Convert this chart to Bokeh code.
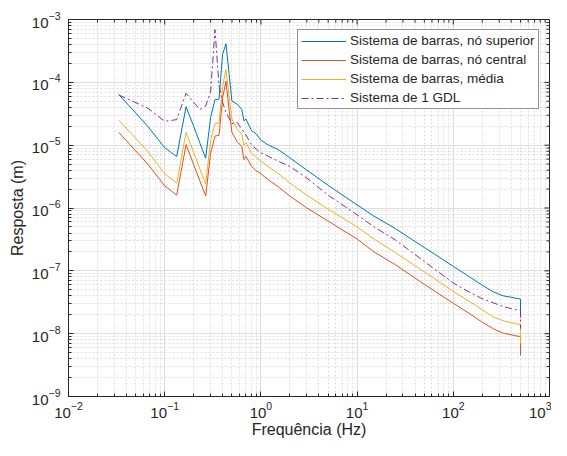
import math
from bokeh.plotting import figure
from bokeh.models import FixedTicker
from bokeh.embed import file_html
from bokeh.resources import INLINE

# Frequencies (Hz)
freq = [0.0333, 0.0667, 0.1, 0.1333, 0.1667, 0.2, 0.2333, 0.2667, 0.3, 0.3333,
        0.3667, 0.4, 0.4333, 0.4667, 0.5, 0.5667, 0.6333, 0.6667, 0.7, 0.8,
        0.9, 1.0, 1.2, 1.5, 2.0, 3.0, 5.0, 10.0, 15.0, 25.0,
        50.0, 100.0, 150.0, 200.0, 260.0, 330.0, 400.0, 450.0, 499.9, 500.0]

# Sistema de barras, nó superior
resp_top = [6.4e-5, 2.0e-5, 9.1e-6, 6.6e-6, 4.1e-5, 2.0e-5, 1.06e-5, 6.2e-6, 2.75e-5, 5.3e-5,
            5.4e-5, 2.8e-4, 4.1e-4, 1.38e-4, 5.0e-5, 4.5e-5, 3.7e-5, 2.44e-5, 2.6e-5, 1.7e-5,
            1.5e-5, 1.2e-5, 1.0e-5, 8.6e-6, 6.3e-6, 4.0e-6, 2.3e-6, 1.12e-6, 7.4e-7, 4.7e-7,
            2.35e-7, 1.18e-7, 7.9e-8, 5.9e-8, 4.64e-8, 4.0e-8, 3.8e-8, 3.65e-8, 3.56e-8, 1.8e-8]

# Sistema de barras, nó central
resp_center = [1.6e-5, 5.0e-6, 2.25e-6, 1.6e-6, 1.02e-5, 4.9e-6, 2.65e-6, 1.55e-6, 7.4e-6, 1.4e-5,
               1.43e-5, 5.6e-5, 1.05e-4, 3.7e-5, 1.6e-5, 1.13e-5, 9.5e-6, 5.9e-6, 6.6e-6, 4.6e-6,
               3.9e-6, 3.5e-6, 2.8e-6, 2.2e-6, 1.55e-6, 1.0e-6, 6.2e-7, 3.2e-7, 2.0e-7, 1.25e-7,
               6.1e-8, 3.05e-8, 2.05e-8, 1.52e-8, 1.2e-8, 1.02e-8, 9.6e-9, 9.2e-9, 9.0e-9, 4.5e-9]

# Sistema de barras, média
resp_mean = [2.5e-5, 8.0e-6, 3.5e-6, 2.5e-6, 1.6e-5, 7.7e-6, 4.1e-6, 2.4e-6, 1.2e-5, 2.2e-5,
             2.25e-5, 8.6e-5, 1.6e-4, 6.0e-5, 2.6e-5, 1.8e-5, 1.5e-5, 1.0e-5, 1.1e-5, 7.4e-6,
             6.4e-6, 5.6e-6, 4.5e-6, 3.6e-6, 2.5e-6, 1.6e-6, 9.6e-7, 5.0e-7, 3.2e-7, 1.95e-7,
             9.6e-8, 4.7e-8, 3.2e-8, 2.4e-8, 1.85e-8, 1.6e-8, 1.5e-8, 1.43e-8, 1.4e-8, 7.0e-9]

# Sistema de 1 GDL
resp_sdof = [6.3e-5, 3.9e-5, 2.4e-5, 2.55e-5, 6.7e-5, 4.8e-5, 3.7e-5, 4.2e-5, 7.0e-5, 6.9e-4,
             9.0e-5, 4.8e-5, 3.3e-5, 2.7e-5, 2.2e-5, 2.3e-5, 1.8e-5, 1.6e-5, 1.45e-5, 1.0e-5,
             8.6e-6, 7.6e-6, 6.6e-6, 5.6e-6, 4.6e-6, 3.0e-6, 1.6e-6, 7.8e-7, 5.0e-7, 3.1e-7,
             1.41e-7, 6.4e-8, 4.5e-8, 3.6e-8, 3.1e-8, 2.7e-8, 2.5e-8, 2.4e-8, 2.35e-8, 1.2e-8]

series_labels = ["Sistema de barras, nó superior", "Sistema de barras, nó central",
                 "Sistema de barras, média", "Sistema de 1 GDL"]
x_label = "Frequência (Hz)"
y_label = "Resposta (m)"

X_LO, X_HI = 1e-2, 1e3
Y_LO, Y_HI = 1e-9, 1e-3

FONT = "Liberation Sans"
TXT = "#262626"

p = figure(width=551, height=440, x_axis_type="log", y_axis_type="log",
           x_range=(X_LO, X_HI), y_range=(Y_LO, Y_HI),
           output_backend="svg", toolbar_location=None,
           min_border_left=68, min_border_right=2, min_border_top=19, min_border_bottom=44)

p.line(freq, resp_top, color="#0072BD", line_width=1.0, legend_label=series_labels[0])
p.line(freq, resp_center, color="#D95319", line_width=1.0, legend_label=series_labels[1])
p.line(freq, resp_mean, color="#EDB120", line_width=1.0, legend_label=series_labels[2])
p.line(freq, resp_sdof, color="#7E2F8E", line_width=1.0, line_dash="7 3 2 3",
       legend_label=series_labels[3])

xmaj = [10.0 ** k for k in range(-2, 4)]
xmin = [m * 10.0 ** k for k in range(-2, 3) for m in range(2, 10)]
ymaj = [10.0 ** k for k in range(-9, -2)]
ymin = [m * 10.0 ** k for k in range(-9, -3) for m in range(2, 10)]

xt = FixedTicker(ticks=xmaj, minor_ticks=xmin)
yt = FixedTicker(ticks=ymaj, minor_ticks=ymin)
p.xaxis.ticker = xt
p.yaxis.ticker = yt
p.xgrid.ticker = xt
p.ygrid.ticker = yt

# inward tick marks on the top and right edges of the box
p.ray(x=xmaj, y=[Y_HI] * len(xmaj), length=5, length_units="screen",
      angle=-math.pi / 2, color=TXT, line_width=1)
p.ray(x=xmin, y=[Y_HI] * len(xmin), length=3, length_units="screen",
      angle=-math.pi / 2, color=TXT, line_width=1)
p.ray(x=[X_HI] * len(ymaj), y=ymaj, length=5, length_units="screen",
      angle=math.pi, color=TXT, line_width=1)
p.ray(x=[X_HI] * len(ymin), y=ymin, length=3, length_units="screen",
      angle=math.pi, color=TXT, line_width=1)

for ax in list(p.xaxis) + list(p.yaxis):
    ax.axis_line_color = TXT
    ax.major_tick_line_color = TXT
    ax.minor_tick_line_color = TXT
    ax.major_tick_in = 5
    ax.major_tick_out = 0
    ax.minor_tick_in = 3
    ax.minor_tick_out = 0
    ax.major_label_text_font = FONT
    ax.major_label_text_font_size = "15px"
    ax.major_label_text_color = TXT
    ax.axis_label_text_font = FONT
    ax.axis_label_text_font_size = "16px"
    ax.axis_label_text_font_style = "normal"
    ax.axis_label_text_color = TXT

p.xaxis.axis_label = x_label
p.xaxis.major_label_standoff = 5
p.xaxis.axis_label_standoff = 0
p.yaxis.axis_label = y_label
p.yaxis.major_label_standoff = 8
p.yaxis.axis_label_standoff = 3

for g in (p.xgrid, p.ygrid):
    g.grid_line_color = "#dedede"
    g.grid_line_width = 1
    g.minor_grid_line_color = "#d0d0d0"
    g.minor_grid_line_dash = "2 2"
    g.minor_grid_line_width = 0.7

p.outline_line_color = TXT

lg = p.legend[0]
lg.location = (229, 287)
lg.padding = 3
lg.spacing = 4
lg.label_height = 14
lg.glyph_height = 14
lg.glyph_width = 45
lg.label_standoff = 4
lg.label_text_font = FONT
lg.label_text_font_size = "13.5px"
lg.label_text_color = TXT
lg.border_line_color = TXT
lg.border_line_width = 1
lg.background_fill_alpha = 1

open("out.html", "w").write(file_html(p, INLINE))
